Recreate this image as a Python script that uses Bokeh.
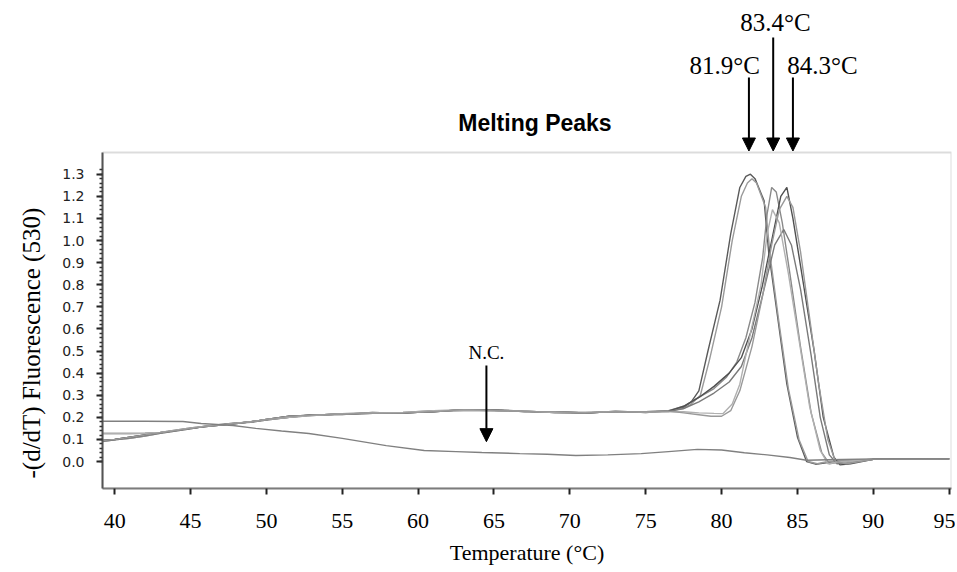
from bokeh.plotting import figure
from bokeh.models import Range1d, FixedTicker, PrintfTickFormatter, Label, Arrow, NormalHead, BoxAnnotation, Title
from bokeh.embed import file_html
from bokeh.resources import INLINE
import numpy as np

# ---- data ----
base_t = [39.2, 40, 41, 42, 43, 44, 45, 46, 47, 48, 49, 50, 51.5, 53, 55, 57, 59, 61, 63, 65, 67, 69, 71, 73, 75, 76.5]
bundle_a = [0.095, 0.10, 0.11, 0.12, 0.13, 0.14, 0.15, 0.158, 0.165, 0.172, 0.18, 0.19, 0.205, 0.21, 0.215, 0.218, 0.22, 0.225, 0.235, 0.232, 0.226, 0.225, 0.22, 0.225, 0.226, 0.228]
bundle_b = [0.09, 0.098, 0.105, 0.115, 0.128, 0.138, 0.148, 0.16, 0.168, 0.175, 0.178, 0.188, 0.2, 0.212, 0.213, 0.222, 0.218, 0.228, 0.232, 0.234, 0.228, 0.222, 0.218, 0.228, 0.222, 0.23]
bundle_c = [0.127, 0.127, 0.127, 0.128, 0.132, 0.142, 0.152, 0.16, 0.166, 0.174, 0.18, 0.19, 0.2, 0.208, 0.216, 0.22, 0.222, 0.23, 0.232, 0.23, 0.228, 0.222, 0.222, 0.226, 0.224, 0.226]

pkA1_t = [77.5, 78.0, 78.5, 79.1, 79.9, 80.6, 81.2, 81.6, 81.9, 82.2, 82.8, 83.1, 83.7, 84.3, 85.0, 85.6, 86.2, 87.0, 88.0, 90.0, 95.0]
pkA1_v = [0.245, 0.27, 0.32, 0.50, 0.73, 1.03, 1.24, 1.29, 1.30, 1.28, 1.18, 0.95, 0.65, 0.35, 0.11, 0.0, -0.012, -0.005, 0.005, 0.01, 0.012]
pkA2_t = [77.5, 78.0, 78.6, 79.2, 80.0, 80.7, 81.3, 81.7, 82.0, 82.3, 82.9, 83.2, 83.8, 84.4, 85.1, 85.7, 86.3, 87.0, 88.0, 90.0, 95.0]
pkA2_v = [0.24, 0.26, 0.30, 0.46, 0.70, 1.0, 1.2, 1.26, 1.28, 1.26, 1.15, 0.93, 0.62, 0.33, 0.10, 0.0, -0.01, 0.0, 0.005, 0.01, 0.012]
pkB_t = [77.5, 78.5, 79.5, 80.3, 81.0, 81.6, 82.2, 82.7, 83.0, 83.3, 83.6, 84.0, 84.5, 85.2, 85.9, 86.6, 87.1, 88.0, 90.0, 95.0]
pkB_v = [0.25, 0.29, 0.33, 0.38, 0.45, 0.56, 0.72, 0.92, 1.12, 1.24, 1.22, 1.08, 0.85, 0.52, 0.22, 0.04, -0.01, 0.0, 0.01, 0.012]
pkC_t = [77.5, 78.5, 79.5, 80.5, 81.3, 82.0, 82.7, 83.3, 83.9, 84.3, 84.7, 85.4, 86.1, 86.7, 87.4, 87.8, 88.5, 90.0, 95.0]
pkC_v = [0.25, 0.29, 0.34, 0.40, 0.47, 0.60, 0.80, 1.0, 1.20, 1.24, 1.10, 0.80, 0.50, 0.20, 0.02, -0.015, -0.01, 0.01, 0.012]
pkD_t = [77.5, 78.5, 79.5, 80.5, 81.3, 82.0, 82.8, 83.5, 84.1, 84.6, 85.2, 85.9, 86.5, 87.1, 87.6, 88.5, 90.0, 95.0]
pkD_v = [0.24, 0.27, 0.31, 0.36, 0.43, 0.56, 0.78, 0.98, 1.05, 0.98, 0.78, 0.48, 0.20, 0.03, -0.01, -0.005, 0.01, 0.012]
pkE_t = [77.5, 78.5, 79.5, 80.1, 80.7, 81.2, 81.9, 82.6, 83.0, 83.35, 83.8, 84.4, 85.1, 85.8, 86.5, 87.0, 88.0, 90.0, 95.0]
pkE_v = [0.225, 0.22, 0.218, 0.217, 0.26, 0.35, 0.58, 0.80, 1.03, 1.14, 1.08, 0.85, 0.55, 0.25, 0.05, -0.01, 0.0, 0.01, 0.012]
pkF_t = [77.5, 78.5, 79.3, 80.0, 80.6, 81.2, 82.0, 82.7, 83.3, 83.8, 84.3, 84.7, 85.2, 85.8, 86.4, 87.0, 87.5, 88.2, 90.0, 95.0]
pkF_v = [0.22, 0.212, 0.205, 0.205, 0.23, 0.32, 0.52, 0.75, 0.98, 1.14, 1.2, 1.15, 0.95, 0.65, 0.35, 0.1, 0.0, -0.01, 0.01, 0.012]

nc_t = [39.2, 40, 42, 44.5, 45.7, 47.8, 49.3, 51, 52.8, 55, 57.9, 60.4, 62.5, 64.2, 66.7, 68.5, 70.4, 72.5, 74.7, 76.5, 78.4, 80, 81.5, 83, 84.5, 85.6, 87, 90, 95]
nc_v = [0.182, 0.182, 0.182, 0.181, 0.172, 0.163, 0.15, 0.138, 0.127, 0.105, 0.072, 0.05, 0.045, 0.041, 0.036, 0.033, 0.027, 0.03, 0.036, 0.045, 0.055, 0.052, 0.04, 0.03, 0.018, 0.006, 0.008, 0.012, 0.012]

x_ticks = [40, 45, 50, 55, 60, 65, 70, 75, 80, 85, 90, 95]
y_ticks = [0.0, 0.1, 0.2, 0.3, 0.4, 0.5, 0.6, 0.7, 0.8, 0.9, 1.0, 1.1, 1.2, 1.3]

# plotting window of the original instrument chart
x_lo, x_hi = 39.2, 95.15
y_lo, y_hi = -0.122, 1.398

peak_labels = ["81.9°C", "83.4°C", "84.3°C"]
peak_arrow_x = [81.8, 83.4, 84.7]
peak_label_x = [80.2, 83.55, 86.65]
peak_label_y = [1.79, 1.985, 1.79]
peak_arrow_top = [1.738, 1.919, 1.738]

samples = [
    (bundle_a, pkA1_t, pkA1_v, "#5a5a5a"),
    (bundle_b, pkA2_t, pkA2_v, "#9a9a9a"),
    (bundle_b, pkB_t, pkB_v, "#8a8a8a"),
    (bundle_a, pkC_t, pkC_v, "#505050"),
    (bundle_c, pkD_t, pkD_v, "#7a7a7a"),
    (bundle_c, pkE_t, pkE_v, "#b0b0b0"),
    (bundle_a, pkF_t, pkF_v, "#999999"),
]

# the drawing area extends above the instrument frame so the annotations fit
p = figure(width=955, height=572, output_backend="svg", toolbar_location=None, title=None,
           x_range=Range1d(x_lo, x_hi), y_range=Range1d(y_lo, 2.086),
           min_border_left=102, min_border_right=4, min_border_top=0, min_border_bottom=84)
p.xgrid.visible = False
p.ygrid.visible = False
p.outline_line_color = None
p.background_fill_color = "white"
p.border_fill_color = "white"

p.add_layout(BoxAnnotation(left=x_lo, right=x_hi, bottom=y_lo, top=y_hi, fill_color=None,
                           line_color="#8a8a8a", line_width=2))

for base_v, pt, pv, col in samples:
    p.line(base_t + pt, base_v + pv, line_color=col, line_width=1.4)
p.line(nc_t, nc_v, line_color="#808080", line_width=1.4)

# axes
xa = p.xaxis[0]
xa.ticker = FixedTicker(ticks=x_ticks)
xa.axis_line_color = "#7a7a7a"
xa.axis_line_width = 2
xa.major_tick_out = 6
xa.major_tick_in = 0
xa.major_tick_line_color = "#222222"
xa.major_tick_line_width = 2
xa.minor_tick_line_color = None
xa.major_label_text_font = "Liberation Serif"
xa.major_label_text_font_size = "22px"
xa.major_label_text_color = "black"
xa.major_label_standoff = 19
xa.axis_label = "Temperature (°C)"
xa.axis_label_text_font = "Liberation Serif"
xa.axis_label_text_font_size = "22px"
xa.axis_label_text_font_style = "normal"
xa.axis_label_text_color = "black"
xa.axis_label_standoff = 9

ya = p.yaxis[0]
minor = [round(v, 2) for v in np.arange(0.0, 1.33, 0.02)]
ya.ticker = FixedTicker(ticks=y_ticks, minor_ticks=minor)
ya.bounds = (y_lo, y_hi)
ya.formatter = PrintfTickFormatter(format="%.1f")
ya.axis_line_color = "#4a4a4a"
ya.axis_line_width = 2
ya.major_tick_out = 6
ya.major_tick_in = 0
ya.major_tick_line_color = "#222222"
ya.major_tick_line_width = 2
ya.minor_tick_out = 3
ya.minor_tick_in = 0
ya.minor_tick_line_color = "#333333"
ya.minor_tick_line_width = 1.5
ya.major_label_text_font = "DejaVu Sans"
ya.major_label_text_font_size = "14px"
ya.major_label_text_color = "#222222"
ya.major_label_standoff = 12

p.add_layout(Title(text="-(d/dT) Fluorescence (530)", align="left", offset=10, standoff=30,
                   text_font="Liberation Serif", text_font_size="25px", text_font_style="normal",
                   text_color="black"), "left")

# chart title
p.add_layout(Label(x=67.7, y=1.534, text="Melting Peaks", text_align="center", text_baseline="middle",
                   text_font="Liberation Sans", text_font_style="bold", text_font_size="23px", text_color="black"))

# peak annotations
for lab, ax, lx, ly, top in zip(peak_labels, peak_arrow_x, peak_label_x, peak_label_y, peak_arrow_top):
    p.add_layout(Label(x=lx, y=ly, text=lab, text_align="center", text_baseline="middle",
                       text_font="Liberation Serif", text_font_size="25px", text_color="black"))
    p.add_layout(Arrow(end=NormalHead(size=13, fill_color="black", line_color="black"),
                       x_start=ax, y_start=top, x_end=ax, y_end=1.405,
                       line_color="black", line_width=2))

# negative control annotation
p.add_layout(Label(x=64.5, y=0.493, text="N.C.", text_align="center", text_baseline="middle",
                   text_font="Liberation Serif", text_font_size="19px", text_color="black"))
p.add_layout(Arrow(end=NormalHead(size=13, fill_color="black", line_color="black"),
                   x_start=64.5, y_start=0.435, x_end=64.5, y_end=0.09,
                   line_color="black", line_width=2))

open("out.html", "w").write(file_html(p, INLINE))
